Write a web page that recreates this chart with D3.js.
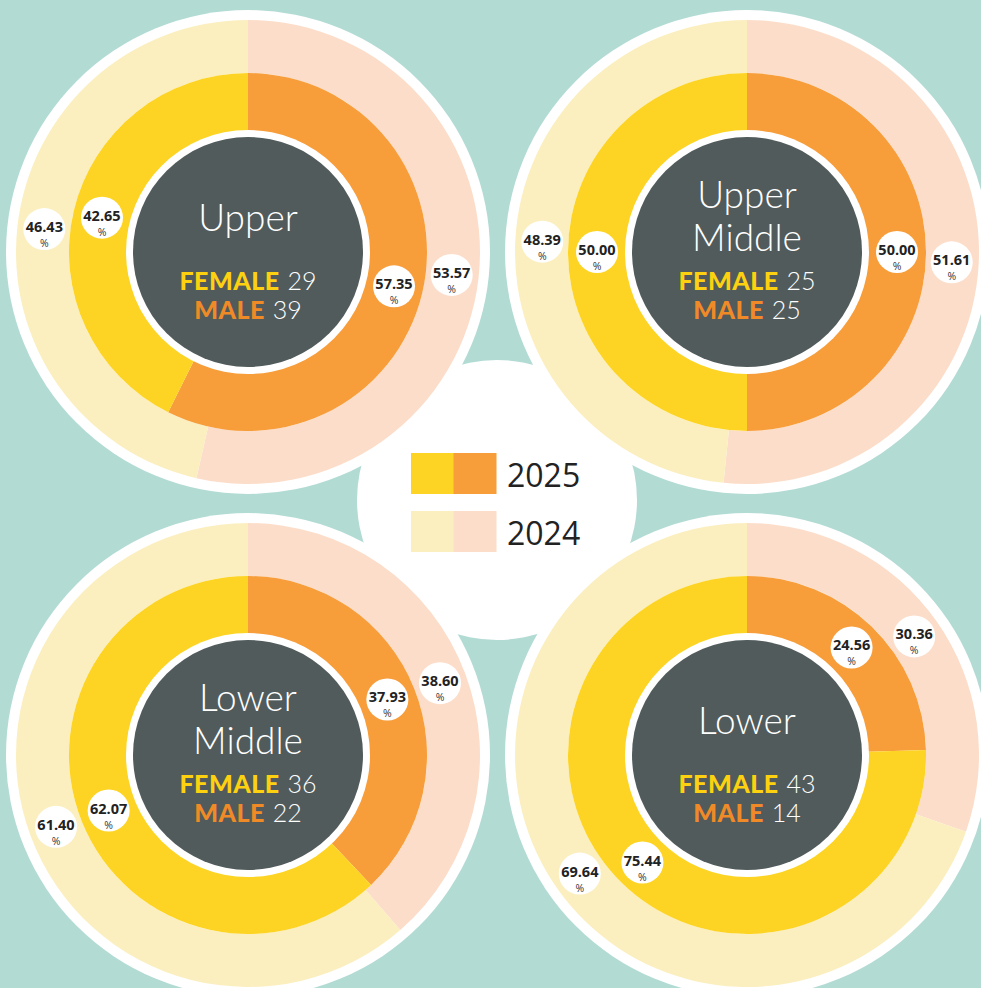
<!DOCTYPE html>
<html>
<head>
<meta charset="utf-8">
<script src="https://cdn.jsdelivr.net/npm/d3@7"></script>
<style>
  body { margin: 0; background: #b2dbd4; }
  svg { display: block; }
</style>
</head>
<body>
<svg id="chart" width="981" height="988"></svg>
<script>
// income groups, shares in percent (male first, clockwise from 12 o'clock)
var groups = ["Upper", "Upper Middle", "Lower Middle", "Lower"];
var female2025 = [42.65, 50.00, 62.07, 75.44];
var male2025 = [57.35, 50.00, 37.93, 24.56];
var female2024 = [46.43, 48.39, 61.40, 69.64];
var male2024 = [53.57, 51.61, 38.60, 30.36];
var femaleCount = [29, 25, 36, 43];
var maleCount = [39, 25, 22, 14];
var years = ["2025", "2024"];

var colors = {
    female2025: "#fdd423",
    male2025: "#f79d3a",
    female2024: "#fbefc0",
    male2024: "#fcddc9",
    dark: "#515b5c",
    femaleText: "#fdd10f",
    maleText: "#f08a26"
};

var svg = d3.select("#chart");

svg.append("rect")
    .attr("width", 981).attr("height", 988)
    .attr("fill", "#b2dbd4");

// white circle behind the legend
svg.append("circle")
    .attr("cx", 497).attr("cy", 500).attr("r", 140)
    .attr("fill", "#fff");

var col = d3.scalePoint().domain([0, 1]).range([248, 747]);
var row = d3.scalePoint().domain([0, 1]).range([252, 755]);

var pie = d3.pie().sort(null).value(function(d) { return d.value; });

var innerArc = d3.arc().innerRadius(121).outerRadius(179);
var outerArc = d3.arc().innerRadius(179).outerRadius(232);
var innerLabel = d3.arc().innerRadius(150).outerRadius(150);
var outerLabel = d3.arc().innerRadius(205).outerRadius(205);

groups.forEach(function(name, i) {
    var g = svg.append("g")
        .attr("transform", "translate(" + col(i % 2) + "," + row(Math.floor(i / 2)) + ")");

    g.append("circle").attr("r", 242).attr("fill", "#fff");

    var ring2024 = pie([
        { value: male2024[i], fill: colors.male2024 },
        { value: female2024[i], fill: colors.female2024 }
    ]);
    var ring2025 = pie([
        { value: male2025[i], fill: colors.male2025 },
        { value: female2025[i], fill: colors.female2025 }
    ]);

    g.selectAll(".outer")
        .data(ring2024)
        .enter().append("path")
        .attr("class", "outer")
        .attr("d", outerArc)
        .attr("fill", function(d) { return d.data.fill; });

    g.selectAll(".inner")
        .data(ring2025)
        .enter().append("path")
        .attr("class", "inner")
        .attr("d", innerArc)
        .attr("fill", function(d) { return d.data.fill; });

    g.append("circle").attr("r", 122).attr("fill", "#fff");
    g.append("circle").attr("r", 115).attr("fill", colors.dark);

    // title lines
    var lines = name.split(" ");
    var top = lines.length > 1 ? -44 : -21;
    lines.forEach(function(line, j) {
        g.append("text")
            .attr("y", top + j * 43)
            .attr("text-anchor", "middle")
            .attr("fill", "#fff")
            .style("font-family", "Lato, sans-serif")
            .style("font-weight", 300)
            .style("font-size", "37px")
            .text(line);
    });

    var counts = [
        { label: "FEMALE", n: femaleCount[i], color: colors.femaleText, y: 38 },
        { label: "MALE", n: maleCount[i], color: colors.maleText, y: 67 }
    ];
    counts.forEach(function(c) {
        var t = g.append("text")
            .attr("y", c.y)
            .attr("text-anchor", "middle")
            .style("font-family", "Lato, sans-serif")
            .style("font-size", "25px");
        t.append("tspan")
            .attr("fill", c.color)
            .style("font-weight", 900)
            .style("letter-spacing", "0.5px")
            .text(c.label);
        t.append("tspan")
            .attr("dx", 8)
            .attr("fill", "#fff")
            .style("font-weight", 300)
            .text(c.n);
    });

    // percent bubbles
    function bubbles(arcs, labelArc) {
        arcs.forEach(function(d) {
            var p = labelArc.centroid(d);
            var b = g.append("g").attr("transform", "translate(" + p + ")");
            b.append("circle").attr("r", 21).attr("fill", "#fff");
            b.append("text")
                .attr("y", 3)
                .attr("text-anchor", "middle")
                .attr("fill", "#222")
                .style("font-family", "'Open Sans', sans-serif")
                .style("font-weight", 700)
                .style("font-size", "14.5px")
                .text(d.value.toFixed(2));
            b.append("text")
                .attr("y", 18)
                .attr("text-anchor", "middle")
                .attr("fill", "#333")
                .style("font-family", "'Open Sans', sans-serif")
                .style("font-size", "10.5px")
                .text("%");
        });
    }
    bubbles(ring2025, innerLabel);
    bubbles(ring2024, outerLabel);
});

// legend
var legend = svg.append("g").attr("transform", "translate(411,453)");
var swatches = [
    [colors.female2025, colors.male2025],
    [colors.female2024, colors.male2024]
];
years.forEach(function(y, k) {
    var item = legend.append("g").attr("transform", "translate(0," + k * 58 + ")");
    swatches[k].forEach(function(c, m) {
        item.append("rect")
            .attr("x", m * 42.5).attr("width", 43).attr("height", 41)
            .attr("fill", c);
    });
    item.append("text")
        .attr("x", 96).attr("y", 34)
        .attr("fill", "#222")
        .style("font-family", "'Open Sans', sans-serif")
        .style("font-size", "32px")
        .text(y);
});
</script>
</body>
</html>
